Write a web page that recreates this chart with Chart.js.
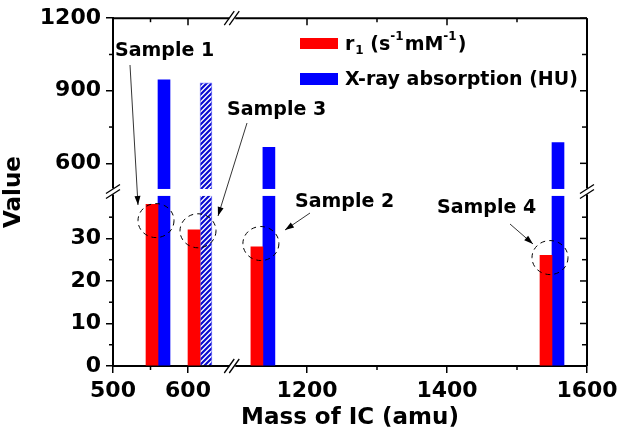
<!DOCTYPE html>
<html>
<head>
<meta charset="utf-8">
<script src="https://cdn.jsdelivr.net/npm/chart.js@4.4.1/dist/chart.umd.min.js"></script>
<style>
  body { margin: 0; background: #fff; }
  #wrap { width: 620px; height: 440px; }
</style>
</head>
<body>
<div id="wrap"><canvas id="chart" width="620" height="440"></canvas></div>
<script>
// samples in the order they sit along the mass axis
var samples = ['Sample 1', 'Sample 3', 'Sample 2', 'Sample 4'];
var masses = [560, 616, 1137, 1550];      // amu
var r1Values = [38, 32, 28, 26];          // s-1 mM-1
var xrayValues = [945, 933, 666, 686];    // HU
var xTicks = [500, 600, 1200, 1400, 1600];
var xMinorTicks = [550, 1300, 1500];
var yTicks = [0, 10, 20, 30, 600, 900, 1200];
var yMinorTicks = [5, 15, 25, 35, 750, 1050];
var circleValues = [34.2, 31.8, 28.8, 25.5]; // centre of the dashed rings

var RED = '#ff0000';
var BLUE = '#0000ff';
var FONT = '"DejaVu Sans", sans-serif';

// broken axes: value range -> fraction of the axis length
var SEGMENTS = {
    x: [{ lo: 500, hi: 658, from: 0, to: 0.25 }, { lo: 1100, hi: 1600, from: 0.2616, to: 1 }],
    y: [{ lo: 0, hi: 40, from: 0, to: 0.489 }, { lo: 494, hi: 1200, from: 0.509, to: 1 }]
};
var TICKS = { x: xTicks, y: yTicks };

class BrokenScale extends Chart.LinearScale {
    determineDataLimits() {
        this.min = this.options.min;
        this.max = this.options.max;
    }
    buildTicks() {
        return TICKS[this.id].map(function (v) { return { value: v }; });
    }
    toDecimal(value) {
        var segs = SEGMENTS[this.id];
        for (var i = 0; i < segs.length; i++) {
            var s = segs[i];
            if (value <= s.hi || i === segs.length - 1) {
                var v = Math.max(value, s.lo);
                return s.from + (v - s.lo) / (s.hi - s.lo) * (s.to - s.from);
            }
        }
    }
    getPixelForValue(value) {
        if (value === null || isNaN(value)) return NaN;
        return this.getPixelForDecimal(this.toDecimal(value));
    }
    getValueForPixel(pixel) {
        var d = this.getDecimalForPixel(pixel);
        var segs = SEGMENTS[this.id];
        for (var i = 0; i < segs.length; i++) {
            var s = segs[i];
            if (d <= s.to || i === segs.length - 1) {
                return s.lo + (d - s.from) / (s.to - s.from) * (s.hi - s.lo);
            }
        }
    }
}
BrokenScale.id = 'broken';
BrokenScale.defaults = {};
Chart.register(BrokenScale);

function makeHatch() {
    var c = document.createElement('canvas');
    c.width = 5; c.height = 5;
    var g = c.getContext('2d');
    g.fillStyle = '#ffffff';
    g.fillRect(0, 0, 5, 5);
    g.strokeStyle = '#0a0ad0';
    g.lineWidth = 2.2;
    g.beginPath();
    g.moveTo(-1, 6); g.lineTo(6, -1);
    g.moveTo(-1, 1); g.lineTo(1, -1);
    g.moveTo(4, 6); g.lineTo(6, 4);
    g.stroke();
    return g.createPattern(c, 'repeat');
}
var hatch = makeHatch();

// labels and arrows, in canvas pixels
var notes = [
    { text: 'Sample 1', tx: 115, ty: 51, from: [130, 65], to: [138, 205] },
    { text: 'Sample 3', tx: 227, ty: 110, from: [247, 123], to: [218, 216] },
    { text: 'Sample 2', tx: 295, ty: 202, from: [310, 213], to: [285, 230] },
    { text: 'Sample 4', tx: 437, ty: 208, from: [510, 224], to: [533, 244] }
];

function line(ctx, x1, y1, x2, y2) {
    ctx.beginPath(); ctx.moveTo(x1, y1); ctx.lineTo(x2, y2); ctx.stroke();
}

function arrow(ctx, a, b) {
    ctx.strokeStyle = '#000'; ctx.fillStyle = '#000'; ctx.lineWidth = 0.8;
    line(ctx, a[0], a[1], b[0], b[1]);
    var ang = Math.atan2(b[1] - a[1], b[0] - a[0]);
    ctx.beginPath();
    ctx.moveTo(b[0], b[1]);
    ctx.lineTo(b[0] - 9 * Math.cos(ang) + 3 * Math.sin(ang), b[1] - 9 * Math.sin(ang) - 3 * Math.cos(ang));
    ctx.lineTo(b[0] - 9 * Math.cos(ang) - 3 * Math.sin(ang), b[1] - 9 * Math.sin(ang) + 3 * Math.cos(ang));
    ctx.closePath(); ctx.fill();
}

function slashes(ctx, cx, cy, vertical) {
    ctx.strokeStyle = '#000'; ctx.lineWidth = 1.3;
    if (vertical) {
        // break on a vertical axis
        ctx.fillStyle = '#fff';
        ctx.fillRect(cx - 8, cy - 3, 16, 6);
        line(ctx, cx - 7, cy + 2, cx + 7, cy - 7);
        line(ctx, cx - 7, cy + 7, cx + 7, cy - 2);
    } else {
        ctx.fillStyle = '#fff';
        ctx.fillRect(cx - 3, cy - 8, 6, 16);
        line(ctx, cx - 8, cy + 7, cx + 2, cy - 7);
        line(ctx, cx - 3, cy + 7, cx + 7, cy - 7);
    }
}

function textPart(ctx, s, x, y, size) {
    ctx.font = 'bold ' + size + 'px ' + FONT;
    ctx.fillText(s, x, y);
    return x + ctx.measureText(s).width;
}

var decor = {
    id: 'decor',
    afterDraw: function (chart) {
        var ctx = chart.ctx, a = chart.chartArea;
        var xs = chart.scales.x, ys = chart.scales.y;
        ctx.save();

        // frame on top and right
        ctx.strokeStyle = '#000'; ctx.lineWidth = 2;
        line(ctx, a.left, a.top, a.right, a.top);
        line(ctx, a.right, a.top, a.right, a.bottom);

        // minor ticks and mirrored ticks
        ctx.lineWidth = 1.5;
        xMinorTicks.forEach(function (v) {
            var p = xs.getPixelForValue(v);
            line(ctx, p, a.bottom, p, a.bottom + 4);
            line(ctx, p, a.top, p, a.top + 4);
        });
        xTicks.forEach(function (v) {
            var p = xs.getPixelForValue(v);
            line(ctx, p, a.top, p, a.top + 7);
        });
        yMinorTicks.forEach(function (v) {
            var p = ys.getPixelForValue(v);
            line(ctx, a.left - 4, p, a.left, p);
            line(ctx, a.right - 5, p, a.right, p);
        });
        yTicks.forEach(function (v) {
            var p = ys.getPixelForValue(v);
            line(ctx, a.right - 7, p, a.right, p);
        });

        // gap of the value axis break, cutting the tall bars
        var yHi = ys.getPixelForDecimal(SEGMENTS.y[1].from);
        var yLo = ys.getPixelForDecimal(SEGMENTS.y[0].to);
        ctx.fillStyle = '#fff';
        ctx.fillRect(a.left + 1, yHi, a.right - a.left - 2, yLo - yHi);
        var yb = (yHi + yLo) / 2 - 1;
        slashes(ctx, a.left, yb, true);
        slashes(ctx, a.right, yb, true);

        var xb = (xs.getPixelForDecimal(SEGMENTS.x[0].to) + xs.getPixelForDecimal(SEGMENTS.x[1].from)) / 2 - 2;
        slashes(ctx, xb, a.bottom, false);
        slashes(ctx, xb, a.top, false);

        // dashed rings round the pairs
        ctx.strokeStyle = '#000'; ctx.lineWidth = 1;
        ctx.setLineDash([5, 4]);
        masses.forEach(function (m, i) {
            var cx = xs.getPixelForValue(m) - 2;
            var cy = ys.getPixelForValue(circleValues[i]);
            ctx.beginPath();
            ctx.ellipse(cx, cy, 18, 17, 0, 0, Math.PI * 2);
            ctx.stroke();
        });
        ctx.setLineDash([]);

        // sample labels with arrows
        ctx.textAlign = 'left'; ctx.textBaseline = 'middle';
        notes.forEach(function (n) {
            ctx.fillStyle = '#000';
            ctx.font = 'bold 19px ' + FONT;
            ctx.fillText(n.text, n.tx, n.ty);
            arrow(ctx, n.from, n.to);
        });

        // legend
        ctx.fillStyle = RED; ctx.fillRect(300, 38, 38, 11);
        ctx.fillStyle = BLUE; ctx.fillRect(300, 73, 38, 12);
        ctx.fillStyle = '#000'; ctx.textBaseline = 'alphabetic';
        var x = 345, base = 50;
        x = textPart(ctx, 'r', x, base, 19);
        x = textPart(ctx, '1', x + 1, base + 4, 12);
        x = textPart(ctx, ' (s', x, base, 19);
        x = textPart(ctx, '-1', x, base - 10, 12);
        x = textPart(ctx, 'mM', x + 1, base, 19);
        x = textPart(ctx, '-1', x, base - 10, 12);
        textPart(ctx, ')', x + 1, base, 19);
        textPart(ctx, 'X-ray absorption (HU)', 345, 85, 19);

        ctx.restore();
    }
};

function points(values) {
    return masses.map(function (m, i) { return { x: m, y: values[i] }; });
}

var ctx = document.getElementById('chart').getContext('2d');
var myChart = new Chart(ctx, {
    type: 'bar',
    data: {
        datasets: [{
            label: 'r1 (s-1mM-1)',
            data: points(r1Values),
            backgroundColor: RED,
            borderWidth: 0,
            barThickness: 12
        }, {
            label: 'X-ray absorption (HU)',
            data: points(xrayValues),
            backgroundColor: [BLUE, hatch, BLUE, BLUE],
            borderColor: [BLUE, '#8080ff', BLUE, BLUE],
            borderWidth: [0, 1, 0, 0],
            barThickness: 12
        }]
    },
    options: {
        responsive: false,
        animation: false,
        layout: { padding: { top: 15, right: 33, left: 0, bottom: 0 } },
        plugins: { legend: { display: false }, tooltip: { enabled: false } },
        scales: {
            x: {
                type: 'broken',
                min: 500, max: 1600,
                offset: false,
                grid: { offset: false, drawOnChartArea: false, tickLength: 7, lineWidth: 1.5, color: '#000' },
                border: { display: true, color: '#000', width: 2 },
                ticks: {
                    autoSkip: false, maxRotation: 0, padding: 5, color: '#000',
                    font: { family: FONT, size: 22, weight: 'bold' },
                    callback: function (v) { return String(v); }
                },
                title: {
                    display: true, text: 'Mass of IC (amu)', color: '#000',
                    font: { family: FONT, size: 23, weight: 'bold' },
                    padding: { top: 0, bottom: 8 }
                },
                afterFit: function (scale) {
                    scale.height = 74;
                    scale.paddingLeft = 20;
                    scale.paddingRight = 30;
                }
            },
            y: {
                type: 'broken',
                min: 0, max: 1200,
                grid: { drawOnChartArea: false, tickLength: 7, lineWidth: 1.5, color: '#000' },
                border: { display: true, color: '#000', width: 2 },
                ticks: {
                    autoSkip: false, padding: 5, color: '#000',
                    font: { family: FONT, size: 22, weight: 'bold' },
                    callback: function (v) { return String(v); }
                },
                title: {
                    display: true, text: 'Value', color: '#000',
                    font: { family: FONT, size: 23, weight: 'bold' },
                    padding: 0
                },
                afterFit: function (scale) { scale.width = 113; }
            }
        }
    },
    plugins: [decor]
});
</script>
</body>
</html>
